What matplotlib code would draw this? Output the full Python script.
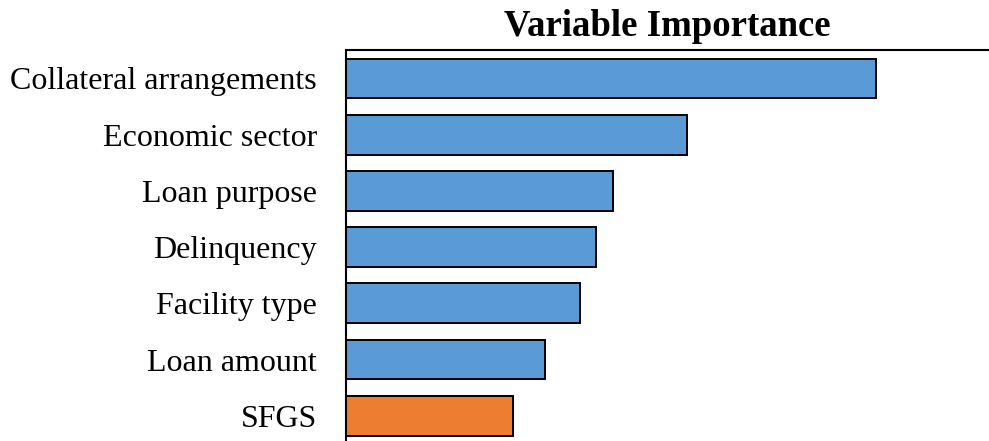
import matplotlib.pyplot as plt

plt.rcParams['font.family'] = ['Liberation Serif', 'DejaVu Serif']

# importance relative to the top variable
variables = ['Collateral arrangements', 'Economic sector', 'Loan purpose',
             'Delinquency', 'Facility type', 'Loan amount', 'SFGS']
importance = [100, 64.3, 50.4, 47.2, 44.2, 37.5, 31.5]
colors = ['#5B9BD5'] * 6 + ['#ED7D31']

fig = plt.figure(figsize=(9.89, 4.41), dpi=100)
ax = fig.add_axes([346 / 989, 0, (988 - 346) / 989, (441 - 50) / 441])

ax.barh(range(len(variables)), importance, height=0.71, color=colors,
        edgecolor='black', linewidth=1.4)

ax.set_xlim(0, 121.1)
ax.set_ylim(6.45, -0.507)
ax.set_yticks(range(len(variables)))
ax.set_yticklabels(variables, fontsize=23)
ax.tick_params(axis='y', length=0, pad=21)
ax.set_xticks([])

ax.spines['right'].set_visible(False)
ax.spines['bottom'].set_visible(False)
ax.spines['left'].set_linewidth(1.5)
ax.spines['top'].set_linewidth(1.5)

ax.set_title('Variable Importance', fontsize=26.5, fontweight='bold', pad=10)

fig.savefig('out.png', dpi=100)
